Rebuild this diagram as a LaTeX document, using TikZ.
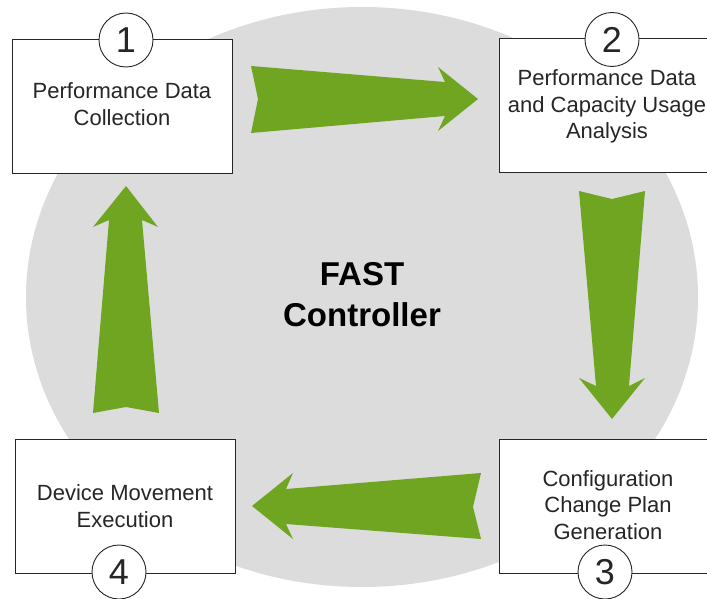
\documentclass[tikz,border=0pt]{standalone}
\usepackage{fontspec}
\setmainfont{Liberation Sans}
\definecolor{ctrlgray}{HTML}{DCDCDC}
\definecolor{flowgreen}{HTML}{6FA520}
\definecolor{ink}{HTML}{262626}
\tikzset{
  stepbox/.style={draw=ink,line width=0.9pt,fill=white,rectangle,inner sep=0pt,minimum height=134pt,minimum width=220pt},
  badge/.style={draw=ink,line width=0.9pt,fill=white,circle,inner sep=0pt,minimum size=54pt,font=\fontsize{36}{36}\selectfont,text=ink},
  steptext/.style={align=center,text=ink,font=\fontsize{22}{26.5}\selectfont,inner sep=0pt},
  flowarrow/.style={fill=flowgreen,draw=none},
}
\begin{document}
\begin{tikzpicture}[x=1pt,y=-1pt]
\useasboundingbox (0,0) rectangle (707,599);
\clip (0,0) rectangle (707,599);
\fill[white] (0,0) rectangle (707,599);
\fill[ctrlgray] (362,297) ellipse [x radius=336,y radius=290];
\node[stepbox] (box1) at (122,106) {};
\node[stepbox] (box2) at (609,105.5) {};
\node[stepbox] (box3) at (609,506.5) {};
\node[stepbox] (box4) at (125.5,506.5) {};
\node[badge] (num1) at (126,40) {1};
\node[badge] (num2) at (612,39.5) {2};
\node[badge] (num3) at (605,572) {3};
\node[badge] (num4) at (119,572) {4};
\node[steptext] (text1) at (122,104) {Performance Data\\Collection};
\node[steptext] (text2) at (607,106.5) {Performance Data\\and Capacity Usage\\Analysis};
\node[steptext] (text3) at (608,505) {Configuration\\Change Plan\\Generation};
\node[steptext] (text4) at (125,506) {Device Movement\\Execution};
\node[align=center,text=black,inner sep=0pt,font=\fontsize{33}{41}\selectfont\bfseries] (title) at (362,295) {FAST\\Controller};
\fill[flowarrow] (251,66) -- (445,82) -- (438,67) -- (478,99) -- (438,131) -- (445,116) -- (251,133) -- (258,99) -- cycle;
\fill[flowarrow] (579,191) -- (612,199) -- (645,191) -- (629,386) -- (645,378) -- (612,419) -- (579,378) -- (596,386) -- cycle;
\fill[flowarrow] (252,506) -- (293,473) -- (286,489) -- (481,473) -- (473,507) -- (481,539) -- (286,524) -- (293,539) -- cycle;
\fill[flowarrow] (126,186) -- (158,227) -- (142,220) -- (159,413) -- (126,407) -- (93,413) -- (109,220) -- (93,227) -- cycle;
\end{tikzpicture}
\end{document}
